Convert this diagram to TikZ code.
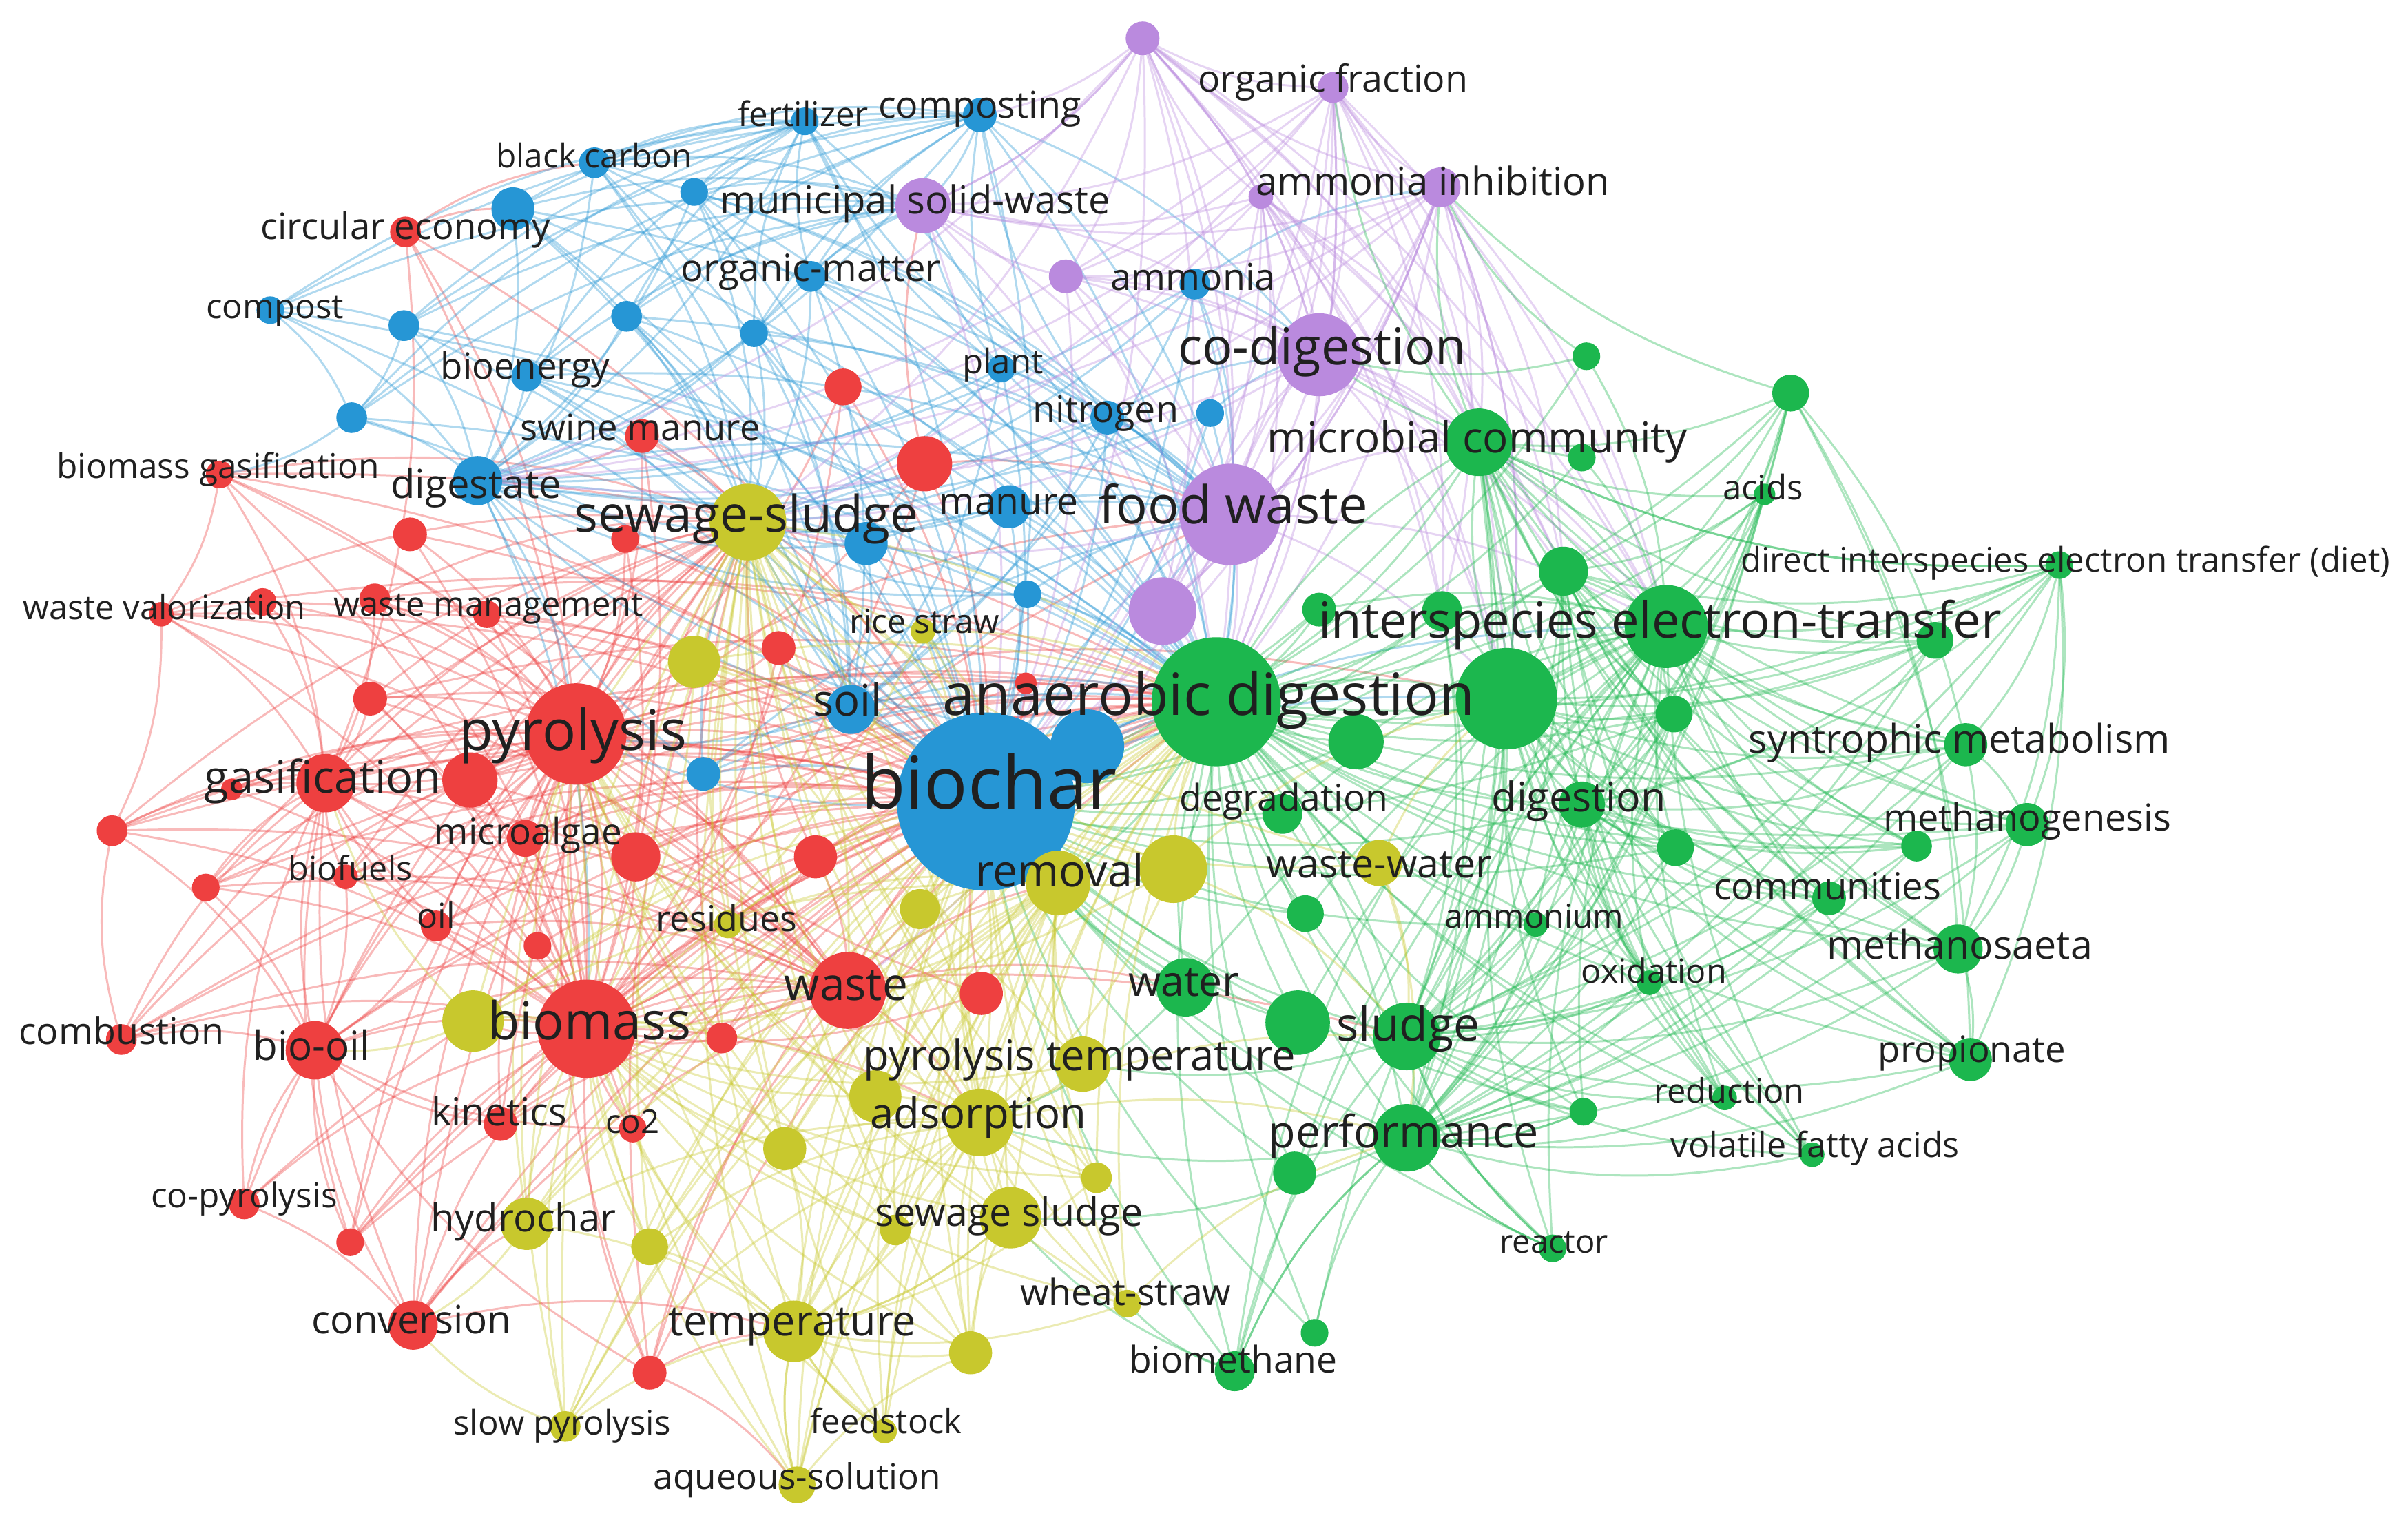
\documentclass[tikz,border=0pt]{standalone}
\usepackage{fontspec}
\setmainfont{Open Sans}
\definecolor{cR}{RGB}{238,64,64}
\definecolor{cB}{RGB}{38,150,213}
\definecolor{cG}{RGB}{28,183,78}
\definecolor{cY}{RGB}{200,200,45}
\definecolor{cP}{RGB}{186,138,222}
\definecolor{txt}{RGB}{32,32,32}
\pgfdeclarelayer{bg}
\pgfdeclarelayer{edges}
\pgfsetlayers{bg,edges,main}
\newcommand\fsz[1]{\fontsize{#1pt}{#1pt}\selectfont}
\tikzset{
  nd/.style={circle,inner sep=0pt,draw=none,fill=#1},
  rad/.style={minimum size={#1*0.044592cm}},
  lbl/.style={inner sep=0pt,text=txt,anchor=base},
  edg/.style={draw=#1,opacity=0.36,line width=0.85pt},
  cv/.style={bend left=14},
}
\newcommand\mkc[5]{\node[nd=#4,rad=#5] (#1) at (#2,#3) {};}
\newcommand\mkl[5]{\node[lbl,font=\fsz{#4},yshift={-0.29*#4pt}] (l#1) at (#2,#3) {#5};}
\begin{document}
\begin{tikzpicture}[x=0.022296cm,y=-0.022296cm]
\useasboundingbox (0,0) rectangle (1568,991);
\begin{pgfonlayer}{bg}
\fill[white] (0,0) rectangle (1568,991);
\end{pgfonlayer}
% ---------------- blue
\mkc{b1}{642}{522}{cB}{58}
\mkc{b24}{708}{486}{cB}{24}
\mkc{b2}{554}{462}{cB}{16}
\mkc{b3}{311}{313}{cB}{16}
\mkc{b4}{343}{245}{cB}{10}
\mkc{b5}{176}{202}{cB}{9}
\mkc{b6}{387}{106}{cB}{10}
\mkc{b7}{524}{79}{cB}{9}
\mkc{b8}{638}{75}{cB}{11}
\mkc{b9}{334}{136}{cB}{14}
\mkc{b10}{452}{125}{cB}{9}
\mkc{b11}{263}{212}{cB}{10}
\mkc{b12}{229}{272}{cB}{10}
\mkc{b13}{408}{206}{cB}{10}
\mkc{b14}{491}{217}{cB}{9}
\mkc{b15}{528}{180}{cB}{10}
\mkc{b16}{652}{240}{cB}{9}
\mkc{b17}{721}{272}{cB}{11}
\mkc{b18}{788}{269}{cB}{9}
\mkc{b19}{778}{185}{cB}{10}
\mkc{b20}{657}{330}{cB}{14}
\mkc{b21}{564}{354}{cB}{14}
\mkc{b22}{669}{387}{cB}{9}
\mkc{b23}{458}{504}{cB}{11}
% ---------------- purple
\mkc{p1}{801}{335}{cP}{33}
\mkc{p2}{859}{231}{cP}{27}
\mkc{p3}{601}{134}{cP}{18}
\mkc{p4}{938}{122}{cP}{13}
\mkc{p5}{868}{57}{cP}{10}
\mkc{p6}{744}{25}{cP}{11}
\mkc{p7}{694}{180}{cP}{11}
\mkc{p8}{757}{398}{cP}{22}
\mkc{p9}{821}{128}{cP}{8}
% ---------------- green
\mkc{g1}{792}{457}{cG}{42}
\mkc{g2}{981}{455}{cG}{33}
\mkc{g3}{1085}{408}{cG}{27}
\mkc{g4}{963}{288}{cG}{22}
\mkc{g5}{1018}{372}{cG}{16}
\mkc{g6}{859}{397}{cG}{11}
\mkc{g7}{939}{398}{cG}{13}
\mkc{g8}{883}{483}{cG}{18}
\mkc{g9}{1090}{465}{cG}{12}
\mkc{g10}{835}{530}{cG}{13}
\mkc{g11}{1030}{524}{cG}{15}
\mkc{g12}{1091}{552}{cG}{12}
\mkc{g13}{850}{595}{cG}{12}
\mkc{g14}{1000}{602}{cG}{8}
\mkc{g15}{1074}{640}{cG}{8}
\mkc{g16}{1341}{368}{cG}{9}
\mkc{g17}{1260}{417}{cG}{12}
\mkc{g18}{1280}{485}{cG}{14}
\mkc{g19}{1320}{537}{cG}{14}
\mkc{g20}{1248}{551}{cG}{10}
\mkc{g21}{1191}{585}{cG}{11}
\mkc{g22}{1275}{618}{cG}{16}
\mkc{g23}{1283}{690}{cG}{14}
\mkc{g24}{1180}{752}{cG}{8}
\mkc{g25}{1123}{715}{cG}{8}
\mkc{g26}{1031}{724}{cG}{9}
\mkc{g27}{1011}{813}{cG}{9}
\mkc{g28}{856}{868}{cG}{9}
\mkc{g29}{804}{893}{cG}{13}
\mkc{g30}{916}{741}{cG}{22}
\mkc{g31}{843}{764}{cG}{14}
\mkc{g32}{916}{675}{cG}{22}
\mkc{g33}{845}{666}{cG}{21}
\mkc{g34}{772}{643}{cG}{19}
\mkc{g35}{1149}{322}{cG}{7}
\mkc{g36}{1033}{232}{cG}{9}
\mkc{g37}{1166}{256}{cG}{12}
\mkc{g38}{1030}{298}{cG}{9}
% ---------------- red
\mkc{r1}{375}{478}{cR}{33}
\mkc{r2}{382}{670}{cR}{32}
\mkc{r3}{552}{645}{cR}{25}
\mkc{r4}{212}{510}{cR}{19}
\mkc{r5}{205}{684}{cR}{19}
\mkc{r6}{269}{863}{cR}{16}
\mkc{r7}{79}{677}{cR}{10}
\mkc{r8}{159}{784}{cR}{10}
\mkc{r9}{326}{732}{cR}{11}
\mkc{r10}{412}{735}{cR}{9}
\mkc{r11}{225}{571}{cR}{8}
\mkc{r12}{284}{603}{cR}{10}
\mkc{r13}{342}{546}{cR}{12}
\mkc{r15}{264}{151}{cR}{10}
\mkc{r16}{418}{284}{cR}{11}
\mkc{r17}{143}{309}{cR}{9}
\mkc{r18}{105}{400}{cR}{8}
\mkc{r19}{317}{400}{cR}{9}
\mkc{r20}{171}{392}{cR}{9}
\mkc{r21}{244}{390}{cR}{10}
\mkc{r22}{267}{348}{cR}{11}
\mkc{r23}{241}{455}{cR}{11}
\mkc{r24}{306}{508}{cR}{18}
\mkc{r25}{151}{514}{cR}{7}
\mkc{r26}{73}{541}{cR}{10}
\mkc{r27}{134}{578}{cR}{9}
\mkc{r28}{350}{616}{cR}{9}
\mkc{r29}{228}{809}{cR}{9}
\mkc{r30}{423}{894}{cR}{11}
\mkc{r31}{470}{676}{cR}{10}
\mkc{r32}{549}{252}{cR}{12}
\mkc{r33}{602}{302}{cR}{18}
\mkc{r34}{407}{351}{cR}{9}
\mkc{r35}{507}{422}{cR}{11}
\mkc{r36}{668}{445}{cR}{7}
\mkc{r37}{531}{558}{cR}{14}
\mkc{r38}{414}{558}{cR}{16}
\mkc{r39}{639}{647}{cR}{14}
% ---------------- yellow
\mkc{y1}{487}{340}{cY}{25}
\mkc{y2}{689}{575}{cY}{21}
\mkc{y3}{764}{566}{cY}{22}
\mkc{y4}{638}{731}{cY}{22}
\mkc{y5}{705}{693}{cY}{18}
\mkc{y6}{658}{793}{cY}{20}
\mkc{y7}{343}{797}{cY}{17}
\mkc{y8}{517}{867}{cY}{20}
\mkc{y9}{734}{849}{cY}{9}
\mkc{y10}{576}{932}{cY}{8}
\mkc{y11}{519}{967}{cY}{12}
\mkc{y12}{368}{929}{cY}{10}
\mkc{y13}{601}{411}{cY}{8}
\mkc{y14}{474}{602}{cY}{9}
\mkc{y15}{898}{562}{cY}{15}
\mkc{y16}{308}{665}{cY}{20}
\mkc{y17}{452}{431}{cY}{17}
\mkc{y18}{570}{714}{cY}{17}
\mkc{y19}{511}{748}{cY}{14}
\mkc{y20}{714}{767}{cY}{10}
\mkc{y21}{583}{801}{cY}{10}
\mkc{y22}{423}{812}{cY}{12}
\mkc{y23}{632}{881}{cY}{14}
\mkc{y24}{599}{592}{cY}{13}
% ================= edges
\begin{pgfonlayer}{edges}
% red
\foreach \s in {r4,r5,r6,r7,r8,r9,r10,r11,r12,r13,r15,r16,r17,r18,r19,r20,r21,r22,r23,r24,r25,r26,r27,r28,r29,r30,r31,r32,r33,r34,r35,r36,r37,r38,r39}
  {\foreach \t in {r1,r2,b1} {\draw[edg=cR] (\s.center) to[cv] (\t.center);}}
\foreach \s in {r4,r5,r6,r7,r9,r11,r12,r13,r17,r18,r21,r23,r24,r26,r27,r29,r30,r38,r31,r37}
  {\foreach \t in {r3,g1,y1} {\draw[edg=cR] (\s.center) to[cv] (\t.center);}}
\foreach \s in {r5,r7,r8,r11,r12,r17,r18,r20,r25,r26,r27,r29,r6,r13,r23,r24,r15,r21}
  {\draw[edg=cR] (\s.center) to[cv] (r4.center);}
\foreach \s in {r7,r8,r9,r6,r12,r26,r27,r29,r10,r11,r30}
  {\draw[edg=cR] (\s.center) to[cv] (r5.center);}
\foreach \s/\t in {r1/r2,r1/r3,r2/r3,r1/b1,r2/b1,r3/b1,r1/g1,r2/g1,r3/g1,r1/r4,r2/r4,r1/y1,r2/y16,r3/y2,r1/y2,r2/y4,r3/y4,r1/g2,r2/g32,r1/p1,r2/p1,r3/g34,r15/b9,r15/b6,r17/r18,r18/r26,r7/r26,r8/r6,r30/y8,r30/y11,r6/y7,r6/y8,r16/b3,r16/y1,r33/p3,r33/p1}
  {\draw[edg=cR] (\s.center) to[cv] (\t.center);}
% blue
\foreach \s in {b2,b4,b5,b6,b7,b8,b9,b10,b11,b12,b13,b14,b15,b16,b17,b18,b19,b20,b21,b22,b23,b24}
  {\foreach \t in {b1,g1,b3} {\draw[edg=cB] (\s.center) to[cv] (\t.center);}}
\foreach \s in {b4,b6,b9,b10,b13,b14,b15,b16,b17,b19,b20,b21,b22,b23}
  {\foreach \t in {p1,y1,b2} {\draw[edg=cB] (\s.center) to[cv] (\t.center);}}
\foreach \s in {b5,b6,b9,b10,b11,b12,b13,b14,b15,b4,b16,b17}
  {\foreach \t in {b8,b7,p3} {\draw[edg=cB] (\s.center) to[cv] (\t.center);}}
\foreach \s/\t in {b1/g1,b1/y2,b1/y1,b1/p1,b1/g2,b1/g3,b1/r1,b2/r1,b2/y2,b3/r1,b3/p1,b3/r2,b5/b11,b5/b12,b11/b12,b12/r17,b3/g1,b24/g1,b24/p1,b17/p2,b18/p2,b19/p2,b8/p3,b8/p1,b7/b6,b8/p2,b19/p4}
  {\draw[edg=cB] (\s.center) to[cv] (\t.center);}
% purple
\foreach \s in {p3,p4,p5,p6,p7,p8,p9}
  {\foreach \t in {p1,p2,g1,b1} {\draw[edg=cP] (\s.center) to[cv] (\t.center);}}
\foreach \s in {p4,p5,p6,p9,p7}
  {\foreach \t in {p3,g4,g3} {\draw[edg=cP] (\s.center) to[cv] (\t.center);}}
\foreach \s in {p4,p5,p6,p9}
  {\foreach \t in {g2,g5,g7,b3,p8,y1} {\draw[edg=cP] (\s.center) to[cv] (\t.center);}}
\foreach \s/\t in {p1/p2,p1/g1,p1/g2,p1/g3,p2/g1,p2/g4,p1/g4,p1/y1,p2/y1,p1/r3,p2/b3,p4/p5,p5/p6,p4/p6,p6/p3,p6/p2,p4/g2,p5/g1,p6/p7,p6/b8,p5/p7,p4/p7,p9/p6,p4/p8,p2/g2,p2/g3,p2/g5,p2/p8}
  {\draw[edg=cP] (\s.center) to[cv] (\t.center);}
% green
\foreach \s in {g2,g4,g5,g6,g7,g8,g9,g10,g11,g12,g13,g14,g15,g16,g17,g18,g19,g20,g21,g22,g23,g24,g25,g26,g27,g28,g29,g30,g31,g32,g33,g34,g35,g36,g37,g38}
  {\foreach \t in {g1,g3} {\draw[edg=cG] (\s.center) to[cv] (\t.center);}}
\foreach \s in {g4,g5,g6,g7,g8,g10,g11,g13,g14,g26,g27,g28,g29,g30,g31,g32,g33,g34,g12,g9}
  {\draw[edg=cG] (\s.center) to[cv] (b1.center);}
\foreach \s in {g4,g5,g7,g9,g11,g12,g14,g15,g16,g17,g18,g19,g20,g21,g22,g23,g24,g25,g26,g27,g29,g35,g37}
  {\foreach \t in {g2,g32,g30} {\draw[edg=cG] (\s.center) to[cv] (\t.center);}}
\foreach \s in {g16,g17,g18,g19,g20,g21,g22,g23,g24,g25,g35,g37,g9,g12,g15}
  {\foreach \t in {g4,g11,g5} {\draw[edg=cG] (\s.center) to[cv] (\t.center);}}
\foreach \s/\t in {g1/g2,g1/g32,g1/g30,g2/g32,g2/g30,g32/g30,g1/g4,g2/g4,g1/y2,g1/y3,g1/y15,g30/y6,g30/y4,g32/y5,g34/y2,g34/y4,g33/y2,g29/y6,g29/y9,g28/g30,g29/g30,g27/g30,g27/g32,g26/g30,g18/g19,g18/g22,g19/g22,g22/g23,g16/g18,g16/g22,g16/g19,g37/g18,g37/g22,g36/p2,g36/p4,g38/p2,g4/p4,g4/p5,g37/p4,g16/g23,g37/g23,g16/g4}
  {\draw[edg=cG] (\s.center) to[cv] (\t.center);}
% yellow
\foreach \s in {y2,y3,y4,y5,y6,y7,y8,y9,y10,y11,y12,y13,y14,y15,y16,y17,y18,y19,y20,y21,y22,y23,y24}
  {\foreach \t in {b1,y1} {\draw[edg=cY] (\s.center) to[cv] (\t.center);}}
\foreach \s in {y3,y5,y6,y7,y8,y9,y10,y11,y12,y13,y14,y16,y17,y18,y19,y20,y21,y22,y23,y24}
  {\foreach \t in {r2,y2,y4,g1} {\draw[edg=cY] (\s.center) to[cv] (\t.center);}}
\foreach \s in {y7,y9,y10,y11,y12,y18,y19,y20,y21,y22,y23,y6}
  {\foreach \t in {y8,r1} {\draw[edg=cY] (\s.center) to[cv] (\t.center);}}
\foreach \s/\t in {y1/y2,y1/y4,y2/y4,y1/g1,y2/g1,y4/g1,y1/r3,y2/r3,y4/y8,y6/y8,y4/g30,y4/g32,y15/g32,y15/g30,y15/g2,y3/g2,y3/g32,y11/y8,y11/y23,y10/y8,y9/g30,y23/y6,y16/r5,y16/r4,y7/r6,y12/r6}
  {\draw[edg=cY] (\s.center) to[cv] (\t.center);}
\end{pgfonlayer}
% ================= labels
\mkl{b1}{644}{513}{30}{biochar}
\mkl{b2}{552}{458}{18}{soil}
\mkl{b3}{310}{317}{16.5}{digestate}
\mkl{b4}{342}{240}{15}{bioenergy}
\mkl{b5}{179}{201}{14}{compost}
\mkl{b6}{387}{103}{13.6}{black carbon}
\mkl{b7}{523}{76}{14}{fertilizer}
\mkl{b8}{638}{70}{15.3}{composting}
\mkl{b15}{528}{176}{15.5}{organic-matter}
\mkl{b16}{653}{237}{14}{plant}
\mkl{b17}{720}{268}{15.3}{nitrogen}
\mkl{b19}{777}{182}{15.3}{ammonia}
\mkl{b20}{657}{328}{15.7}{manure}
\mkl{p1}{803}{331}{21.6}{food waste}
\mkl{p2}{861}{228}{21}{co-digestion}
\mkl{p3}{596}{132}{16}{municipal solid-waste}
\mkl{p4}{933}{120}{16}{ammonia inhibition}
\mkl{p5}{868}{53}{15.3}{organic fraction}
\mkl{g1}{787}{455}{24}{anaerobic digestion}
\mkl{g3}{1081}{406}{20.6}{interspecies electron-transfer}
\mkl{g4}{962}{287}{17.6}{microbial community}
\mkl{g10}{836}{521}{15.2}{degradation}
\mkl{g11}{1028}{521}{16.8}{digestion}
\mkl{g14}{999}{598}{13.6}{ammonium}
\mkl{g15}{1077}{634}{13.8}{oxidation}
\mkl{g16}{1345}{366}{14}{direct interspecies electron transfer (diet)}
\mkl{g18}{1276}{483}{16.3}{syntrophic metabolism}
\mkl{g19}{1320}{534}{15.4}{methanogenesis}
\mkl{g21}{1190}{579}{15.5}{communities}
\mkl{g22}{1276}{617}{16.3}{methanosaeta}
\mkl{g23}{1284}{685}{15}{propionate}
\mkl{g24}{1182}{747}{14.3}{volatile fatty acids}
\mkl{g25}{1126}{712}{13.9}{reduction}
\mkl{g27}{1012}{810}{13.4}{reactor}
\mkl{g29}{803}{887}{15.2}{biomethane}
\mkl{g30}{914}{739}{18.4}{performance}
\mkl{g32}{917}{669}{19.3}{sludge}
\mkl{g34}{771}{641}{17.3}{water}
\mkl{g35}{1148}{319}{14}{acids}
\mkl{r1}{373}{478}{23.2}{pyrolysis}
\mkl{r2}{384}{667}{21.5}{biomass}
\mkl{r3}{551}{643}{18.7}{waste}
\mkl{r4}{210}{508}{18.5}{gasification}
\mkl{r5}{203}{683}{16.6}{bio-oil}
\mkl{r6}{268}{861}{16.1}{conversion}
\mkl{r7}{79}{673}{15.3}{combustion}
\mkl{r8}{159}{780}{14.1}{co-pyrolysis}
\mkl{r9}{325}{726}{15.9}{kinetics}
\mkl{r10}{412}{732}{13.5}{co2}
\mkl{r11}{228}{567}{13.8}{biofuels}
\mkl{r12}{284}{598}{14.2}{oil}
\mkl{r13}{344}{543}{15.1}{microalgae}
\mkl{r15}{264}{149}{15}{circular economy}
\mkl{r16}{417}{280}{15}{swine manure}
\mkl{r17}{142}{305}{14.1}{biomass gasification}
\mkl{r18}{107}{397}{13.9}{waste valorization}
\mkl{r19}{318}{395}{13.9}{waste management}
\mkl{y1}{486}{337}{20.8}{sewage-sludge}
\mkl{y2}{690}{569}{18.4}{removal}
\mkl{y4}{637}{727}{17.5}{adsorption}
\mkl{y5}{703}{689}{17.5}{pyrolysis temperature}
\mkl{y6}{657}{791}{16.3}{sewage sludge}
\mkl{y7}{341}{795}{16}{hydrochar}
\mkl{y8}{516}{862}{17.4}{temperature}
\mkl{y9}{733}{843}{15.2}{wheat-straw}
\mkl{y10}{577}{927}{13.9}{feedstock}
\mkl{y11}{519}{963}{14.6}{aqueous-solution}
\mkl{y12}{366}{928}{14}{slow pyrolysis}
\mkl{y13}{602}{406}{13.7}{rice straw}
\mkl{y14}{473}{600}{14.8}{residues}
\mkl{y15}{898}{564}{16.3}{waste-water}
\end{tikzpicture}
\end{document}
